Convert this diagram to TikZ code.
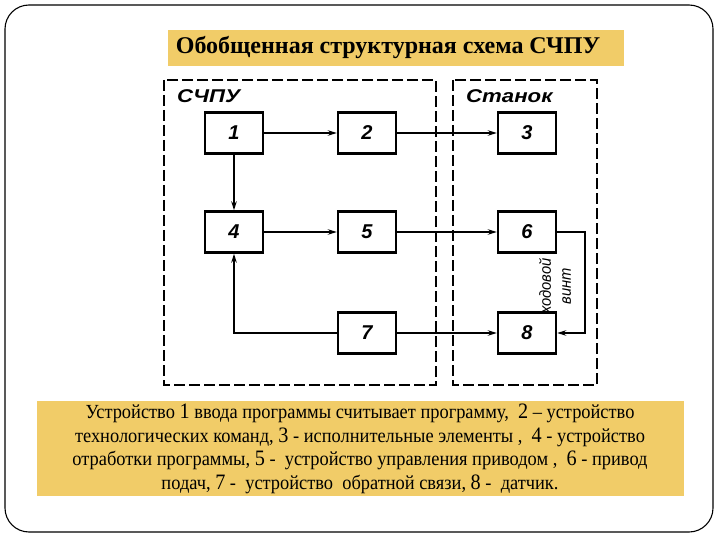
\documentclass[tikz,border=0pt]{standalone}
\usepackage{fontspec}
\setmainfont{Liberation Serif}
\newfontfamily\lsans{Liberation Sans}
\newfontfamily\wides[FakeStretch=1.2]{Liberation Sans}
\newfontfamily\narrs[FakeStretch=0.92]{Liberation Sans}
\newfontfamily\cond[FakeStretch=0.92]{Liberation Serif}
\usetikzlibrary{arrows.meta}
\definecolor{ybg}{RGB}{241,204,104}
\newcommand{\Dg}[1]{{\fontsize{22}{22}\selectfont #1}}
\tikzset{
  blk/.style={draw, line width=2.4pt, minimum width=58pt, minimum height=41pt, inner sep=0pt,
    font=\lsans\bfseries\itshape\fontsize{20}{20}\selectfont},
  zone/.style={draw, line width=2.4pt, dash pattern=on 11pt off 4pt},
  conn/.style={line width=2pt, -{Stealth[length=9pt,width=5.5pt]}},
  zlabel/.style={font=\wides\bfseries\itshape\fontsize{18.5}{18.5}\selectfont, anchor=west, inner sep=0pt}
}
\begin{document}
\begin{tikzpicture}[x=1pt,y=-1pt]
\useasboundingbox (0,0) rectangle (720,540);
% outer frame
\draw[line width=1.1pt, rounded corners=24pt] (5,5) rectangle (713,532);
% title
\node[fill=ybg, minimum width=456pt, minimum height=36pt, inner sep=0pt] (titlebox) at (396,48) {};
\node[font=\bfseries\fontsize{24}{24}\selectfont, inner sep=0pt] (title) at (388,48) {Обобщенная структурная схема СЧПУ};
% zones
\draw[zone] (164,80) rectangle (436,385);
\draw[zone] (453,80) rectangle (597,385);
\node[zlabel] (lz) at (177,96) {СЧПУ};
\node[zlabel] (rz) at (466,96) {Станок};
% blocks
\node[blk] (b1) at (234,133) {1};
\node[blk] (b2) at (367,133) {2};
\node[blk] (b3) at (527,133) {3};
\node[blk] (b4) at (234,232) {4};
\node[blk] (b5) at (367,232) {5};
\node[blk] (b6) at (527,232) {6};
\node[blk] (b7) at (367,333) {7};
\node[blk] (b8) at (527,333) {8};
% connectors
\draw[conn] (b1) -- (b2);
\draw[conn] (b2) -- (b3);
\draw[conn] (b1) -- (b4);
\draw[conn] (b4) -- (b5);
\draw[conn] (b5) -- (b6);
\draw[conn] (b7) -- (b8);
\draw[conn] (b7.west) -| (b4.south);
\coordinate (fr) at (585,232);
\draw[conn] (b6.east) -- (fr) |- (b8.east);
\node[rotate=90, align=center, inner sep=0pt,
  font=\narrs\itshape\fontsize{16}{20}\selectfont] (screw) at (555,286) {ходовой\\винт};
% legend
\node[fill=ybg, minimum width=647pt, minimum height=95pt, inner sep=0pt] (leg) at (360.5,448.5) {};
\node[align=center, font=\cond\fontsize{20}{23.5}\selectfont, inner sep=0pt] (legtxt) at (360,449)
{Устройство \Dg{1} ввода программы считывает программу, \ \Dg{2} – устройство\\
технологических команд, \Dg{3} - исполнительные элементы , \ \Dg{4} - устройство\\
отработки программы, \Dg{5} - \ устройство управления приводом , \ \Dg{6} - привод\\
подач, \Dg{7} - \ устройство \ обратной связи, \Dg{8} - \ датчик.};
\end{tikzpicture}
\end{document}
